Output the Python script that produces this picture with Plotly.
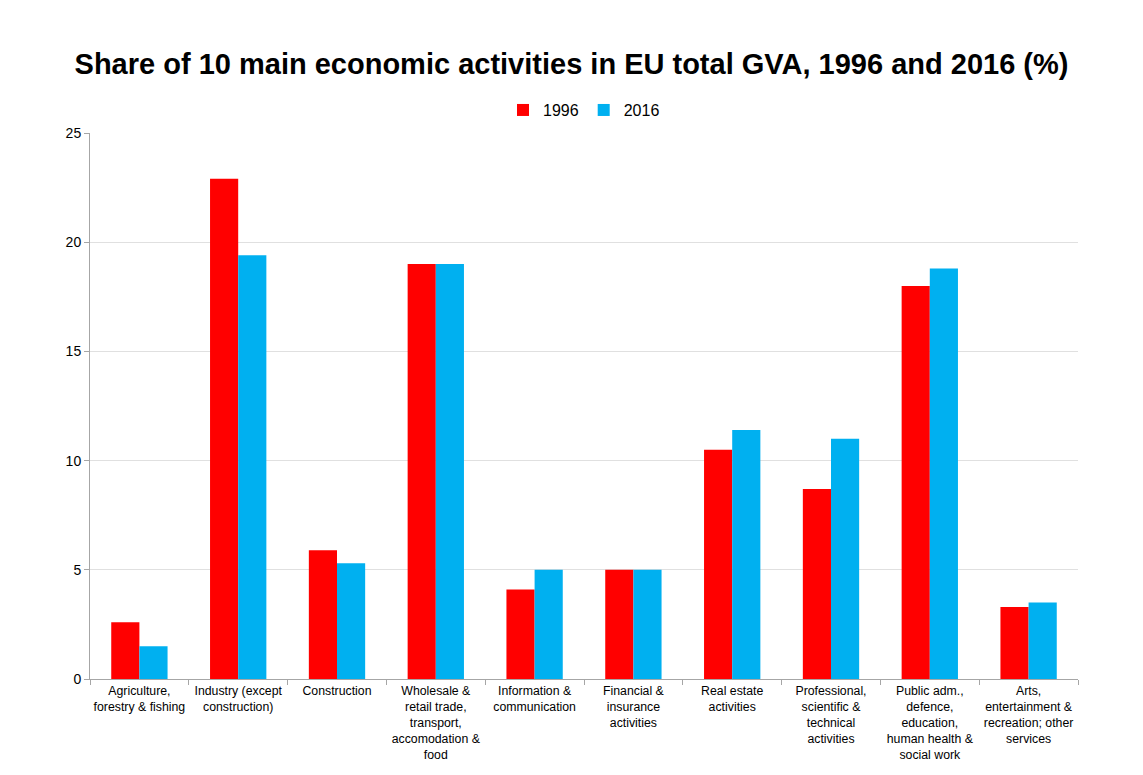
import plotly.graph_objects as go

categories = [
    "Agriculture,<br>forestry & fishing",
    "Industry (except<br>construction)",
    "Construction",
    "Wholesale &<br>retail trade,<br>transport,<br>accomodation &<br>food",
    "Information &<br>communication",
    "Financial &<br>insurance<br>activities",
    "Real estate<br>activities",
    "Professional,<br>scientific &<br>technical<br>activities",
    "Public adm.,<br>defence,<br>education,<br>human health &<br>social work",
    "Arts,<br>entertainment &<br>recreation; other<br>services",
]
values_1996 = [2.6, 22.9, 5.9, 19.0, 4.1, 5.0, 10.5, 8.7, 18.0, 3.3]
values_2016 = [1.5, 19.4, 5.3, 19.0, 5.0, 5.0, 11.4, 11.0, 18.8, 3.5]

fig = go.Figure()
fig.add_trace(go.Bar(name="1996", x=categories, y=values_1996, marker_color="#FF0000", marker_line_width=0))
fig.add_trace(go.Bar(name="2016", x=categories, y=values_2016, marker_color="#00B0F0", marker_line_width=0))

fig.update_layout(
    width=1143, height=775,
    paper_bgcolor="white", plot_bgcolor="white",
    font=dict(family="Liberation Sans, Arial, sans-serif", color="black", size=12),
    title=dict(text="<b>Share of 10 main economic activities in EU total GVA, 1996 and 2016 (%)</b>",
               x=0.5, xanchor="center", y=0.918, yanchor="middle",
               font=dict(size=29, color="black")),
    barmode="group", bargap=0.43, bargroupgap=0,
    margin=dict(l=90, r=65, t=133, b=96),
    legend=dict(orientation="h", x=0.5, xanchor="center", y=1.042, yanchor="middle",
                font=dict(size=16), itemwidth=30, traceorder="normal"),
    xaxis=dict(showline=True, linecolor="#A6A6A6", linewidth=1, ticks="outside",
               tickson="boundaries", ticklen=5, tickcolor="#A6A6A6", automargin=False,
               tickfont=dict(size=12.3), tickangle=0, showgrid=False),
    yaxis=dict(range=[0, 25], dtick=5, showline=True, linecolor="#A6A6A6", linewidth=1,
               ticks="outside", ticklen=5, tickcolor="#A6A6A6", automargin=False,
               showgrid=True, gridcolor="#E0E0E0", gridwidth=1,
               tickfont=dict(size=14), zeroline=False),
)

fig.write_html("out.html")
